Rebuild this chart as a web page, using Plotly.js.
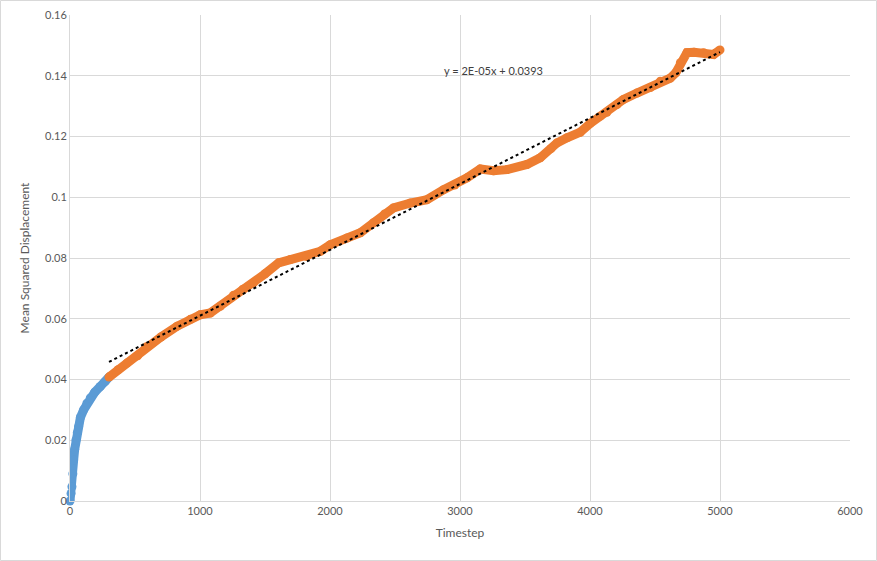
<!DOCTYPE html>
<html>
<head>
<meta charset="utf-8">
<script src="https://cdn.plot.ly/plotly-3.0.1.min.js"></script>
<style>
  html, body { margin: 0; padding: 0; background: #fff; }
  #plot { width: 877px; height: 561px; }
</style>
</head>
<body>
<div id="plot"></div>
<script>
// early part of the run (blue)
const earlySteps = [0, 8, 15, 22, 28, 36, 46, 56, 66, 80, 105, 130, 156, 190, 233, 270, 300];
const earlyMsd = [0, 0.0025, 0.0047, 0.0090, 0.0135, 0.0170, 0.0201, 0.0225, 0.0245, 0.0275, 0.0300, 0.0322, 0.0339, 0.0358, 0.0377, 0.0393, 0.0408];

// later part of the run (orange)
const lateSteps = [300, 370, 438, 520, 592, 700, 823, 926, 1002, 1079, 1156, 1257, 1330, 1412, 1500, 1605, 1695, 1821, 1925,
  2002, 2131, 2233, 2335, 2420, 2489, 2618, 2746, 2874, 2960, 3054, 3156, 3258, 3361, 3515, 3617, 3700, 3746, 3823,
  3925, 4002, 4079, 4130, 4208, 4258, 4361, 4464, 4541, 4617, 4660, 4695, 4746, 4800, 4874, 4951, 5000];
const lateMsd = [0.0408, 0.0432, 0.0454, 0.0478, 0.0509, 0.0540, 0.0575, 0.0598, 0.0613, 0.0619, 0.0641, 0.0677, 0.0697, 0.0718, 0.0748, 0.0784, 0.0795, 0.0805, 0.0822,
  0.0844, 0.0866, 0.0883, 0.0916, 0.0945, 0.0965, 0.0981, 0.0992, 0.1025, 0.1040, 0.1064, 0.1093, 0.1087, 0.1091, 0.1108, 0.1130, 0.1160, 0.1179, 0.1196,
  0.1214, 0.1243, 0.1267, 0.1280, 0.1305, 0.1322, 0.1343, 0.1361, 0.1382, 0.1392, 0.1410, 0.1443, 0.1476, 0.1477, 0.1476, 0.1470, 0.1485];

// linear trendline ends
const trendSteps = [300, 5000];
const trendMsd = [0.0458, 0.1478];
const trendLabel = 'y = 2E-05x + 0.0393';

const xTicks = [0, 1000, 2000, 3000, 4000, 5000, 6000];
const yTicks = [0, 0.02, 0.04, 0.06, 0.08, 0.1, 0.12, 0.14, 0.16];

const tickFont = { family: 'Lato, "Open Sans", sans-serif', size: 11, color: '#595959' };

const traces = [
  {
    x: earlySteps, y: earlyMsd,
    mode: 'lines+markers', type: 'scatter',
    line: { color: '#5b9bd5', width: 9 },
    marker: { color: '#5b9bd5', size: 9 },
    cliponaxis: false,
    hoverinfo: 'skip'
  },
  {
    x: lateSteps, y: lateMsd,
    mode: 'lines+markers', type: 'scatter',
    line: { color: '#ed7d31', width: 9 },
    marker: { color: '#ed7d31', size: 9 },
    hoverinfo: 'skip'
  },
  {
    x: trendSteps, y: trendMsd,
    mode: 'lines', type: 'scatter',
    line: { color: '#000000', width: 2, dash: 'dot' },
    hoverinfo: 'skip'
  }
];

const layout = {
  width: 877, height: 561,
  margin: { l: 70, r: 27, t: 15, b: 60 },
  paper_bgcolor: '#ffffff',
  plot_bgcolor: '#ffffff',
  showlegend: false,
  xaxis: {
    range: [0, 6000],
    tickvals: xTicks,
    ticktext: xTicks.map(String),
    showgrid: true, gridcolor: '#d9d9d9', gridwidth: 1,
    zeroline: false,
    showline: true, linecolor: '#d9d9d9',
    ticks: '', ticklen: 0,
    tickfont: tickFont,
    title: { text: 'Timestep', font: { family: tickFont.family, size: 12, color: '#595959' }, standoff: 12 }
  },
  yaxis: {
    range: [0, 0.16],
    tickvals: yTicks,
    ticktext: yTicks.map(String),
    showgrid: true, gridcolor: '#d9d9d9', gridwidth: 1,
    zeroline: false,
    showline: true, linecolor: '#d9d9d9',
    ticks: '', ticklen: 0,
    tickfont: tickFont,
    title: { text: 'Mean Squared Displacement', font: { family: tickFont.family, size: 12, color: '#595959' }, standoff: 12 }
  },
  annotations: [{
    x: 3256, y: 0.1418, xref: 'x', yref: 'y',
    text: trendLabel, showarrow: false,
    font: { family: tickFont.family, size: 11, color: '#404040' }
  }],
  shapes: [{
    type: 'rect', xref: 'paper', yref: 'paper',
    x0: -0.0891, x1: 1.034, y0: -0.1224, y1: 1.0298,
    line: { color: '#d9d9d9', width: 1 }
  }]
};

Plotly.newPlot('plot', traces, layout, { displayModeBar: false, staticPlot: true });
</script>
</body>
</html>
